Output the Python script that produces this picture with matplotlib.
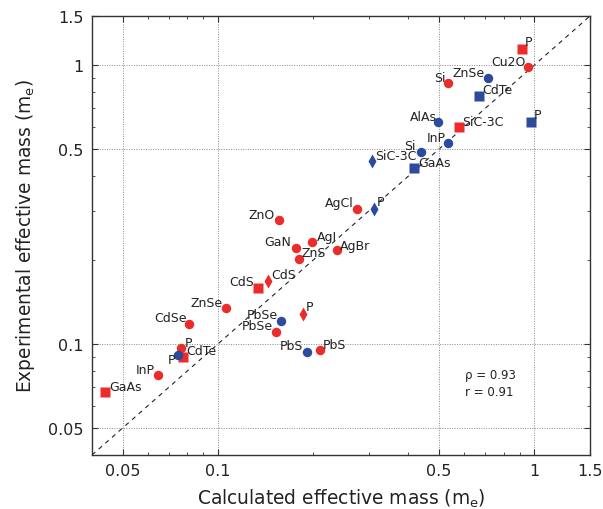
import matplotlib
matplotlib.use("Agg")
import matplotlib.pyplot as plt
from matplotlib.ticker import FixedLocator, FixedFormatter, NullFormatter

plt.rcParams['font.family'] = ['DejaVu Sans']

# ---------------- data ----------------
labels = ["Cu2O", "Si", "ZnO", "AgCl", "AgI", "GaN", "ZnS", "AgBr", "ZnSe", "CdSe",
          "PbSe", "PbS", "P", "InP",
          "P", "SiC-3C", "CdS", "CdTe", "GaAs",
          "CdS", "P",
          "ZnSe", "AlAs", "InP", "Si", "PbSe", "PbS", "P",
          "CdTe", "P", "GaAs",
          "SiC-3C", "P"]
calc = [0.957, 0.534, 0.156, 0.275, 0.199, 0.176, 0.180, 0.238, 0.1057, 0.0813,
        0.153, 0.210, 0.0765, 0.0646,
        0.914, 0.578, 0.134, 0.0777, 0.0439,
        0.144, 0.186,
        0.713, 0.498, 0.532, 0.439, 0.158, 0.191, 0.0747,
        0.668, 0.978, 0.417,
        0.307, 0.311]
expt = [0.984, 0.862, 0.278, 0.305, 0.2315, 0.221, 0.2017, 0.2167, 0.135, 0.118,
        0.1107, 0.0954, 0.0965, 0.0776,
        1.144, 0.601, 0.159, 0.090, 0.0675,
        0.1686, 0.1278,
        0.898, 0.626, 0.525, 0.489, 0.1206, 0.094, 0.0915,
        0.776, 0.626, 0.4285,
        0.453, 0.3055]
group = ["red"] * 14 + ["red"] * 5 + ["red"] * 2 + ["blue"] * 7 + ["blue"] * 3 + ["blue"] * 2
shape = ["o"] * 14 + ["s"] * 5 + ["d"] * 2 + ["o"] * 7 + ["s"] * 3 + ["d"] * 2

ticks = [0.05, 0.1, 0.5, 1, 1.5]
tick_labels = ["0.05", "0.1", "0.5", "1", "1.5"]
minor_ticks = [0.04, 0.06, 0.07, 0.08, 0.09, 0.2, 0.3, 0.4, 0.6, 0.7, 0.8, 0.9]
stats_text = ["\u03c1 = 0.93", "r = 0.91"]

# ---------------- style ----------------
palette = {"red": "#ec2b2b", "blue": "#2c4a9e"}
msize = {"o": 6.8, "s": 7.0, "d": 7.5}
# label placement (ha, dx px, dy px)
label_pos = [("right", -3, 2), ("right", -2, 2), ("right", -4, 2), ("right", -3, 3),
             ("left", 4, 2), ("right", -4, 3), ("left", 3, 3), ("left", 3, 1),
             ("right", -3, 2), ("right", -3, 3), ("right", -3, 3), ("left", 3, 2),
             ("left", 4, 2), ("right", -3, 2),
             ("left", 3, 4), ("left", 3, 2), ("right", -4, 3), ("left", 3, 3), ("left", 4, 2),
             ("left", 3, 3), ("left", 3, 4),
             ("right", -3, 2), ("right", -2, 2), ("right", -2, 2), ("right", -6, 3),
             ("right", -3, 3), ("right", -4, 3), ("right", -3, -8),
             ("left", 3, 3), ("left", 3, 4), ("left", 4, 2),
             ("left", 3, 2), ("left", 3, 4)]

fig = plt.figure(figsize=(6.03, 5.10), dpi=100)
ax = fig.add_axes([92 / 603, 54 / 510, (590 - 92) / 603, (456 - 17) / 510])
ax.set_xscale("log")
ax.set_yscale("log")
lo, hi = 0.04, 1.5
ax.set_xlim(lo, hi)
ax.set_ylim(lo, hi)

ax.plot([lo, hi], [lo, hi], ls=(0, (4, 4)), color="#222222", lw=0.8, zorder=1)

for xv, yv, g, m in zip(calc, expt, group, shape):
    ax.plot(xv, yv, marker=m, color=palette[g], ms=msize[m], mec="none", ls="none", zorder=3)

for lab, xv, yv, (ha, dx, dy) in zip(labels, calc, expt, label_pos):
    ax.annotate(lab, (xv, yv), xytext=(dx, dy), textcoords="offset pixels",
                ha=ha, va="baseline", fontsize=9, color="#222222", zorder=4)

ax.text((465 - 92) / 498, (456 - 379.5) / 439, stats_text[0], transform=ax.transAxes,
        fontsize=8.5, color="#222222", va="baseline", ha="left")
ax.text((465 - 92) / 498, (456 - 396.5) / 439, stats_text[1], transform=ax.transAxes,
        fontsize=8.5, color="#222222", va="baseline", ha="left")

for axis in (ax.xaxis, ax.yaxis):
    axis.set_major_locator(FixedLocator(ticks))
    axis.set_major_formatter(FixedFormatter(tick_labels))
    axis.set_minor_locator(FixedLocator(minor_ticks))
    axis.set_minor_formatter(NullFormatter())

ax.tick_params(which="both", direction="in", top=True, right=True, colors="#333333",
               labelcolor="#222222")
ax.tick_params(which="major", length=4, width=0.8, labelsize=11.5, pad=6)
ax.tick_params(which="minor", length=2.5, width=0.6)
ax.grid(True, which="major", ls=(0, (1, 1.5)), color="#888888", lw=0.7)
for sp in ax.spines.values():
    sp.set_color("#333333")
    sp.set_linewidth(1.0)

ax.set_xlabel(r"Calculated effective mass (m$_\mathrm{e}$)", fontsize=13.4, color="#222222", labelpad=6)
ax.set_ylabel(r"Experimental effective mass (m$_\mathrm{e}$)", fontsize=13.4, color="#222222", labelpad=8)

fig.savefig("out.png", dpi=100)
